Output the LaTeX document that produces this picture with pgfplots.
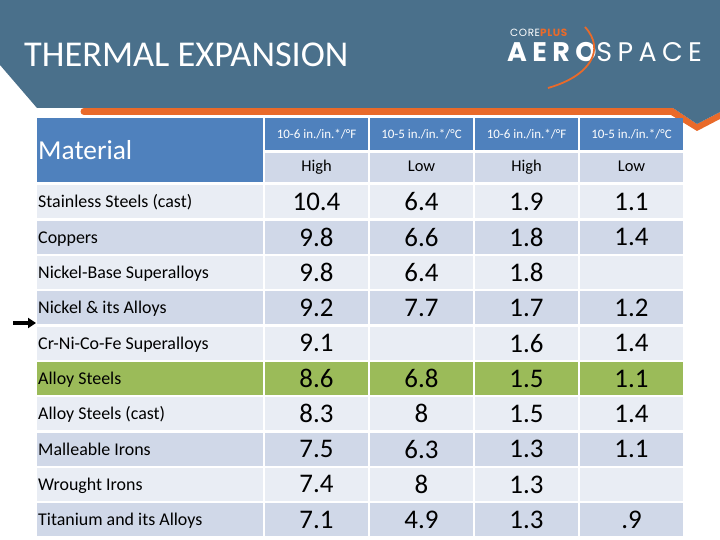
\documentclass[border=0pt]{standalone}
\usepackage{fontspec}
\setmainfont{Carlito}
\newfontfamily\logofont{Poppins}
\usepackage{pgfplots}
\pgfplotsset{compat=1.18}
\usepackage{pgfplotstable}
\usetikzlibrary{arrows.meta}
\definecolor{banner}{HTML}{4A708B}
\definecolor{orng}{HTML}{E96A2A}
\definecolor{hdr}{HTML}{4F81BD}
\definecolor{rowlight}{HTML}{E9EDF4}
\definecolor{rowdark}{HTML}{D0D8E8}
\definecolor{rowgreen}{HTML}{9BBB59}

\pgfplotstableread{
i v
0 10.4
1 9.8
2 9.8
3 9.2
4 9.1
5 8.6
6 8.3
7 7.5
8 7.4
9 7.1
}\colA
\pgfplotstableread{
i v
0 6.4
1 6.6
2 6.4
3 7.7
5 6.8
6 8
7 6.3
8 8
9 4.9
}\colB
\pgfplotstableread{
i v
0 1.9
1 1.8
2 1.8
3 1.7
4 1.6
5 1.5
6 1.5
7 1.3
8 1.3
9 1.3
}\colC
\pgfplotstableread{
i v
0 1.1
1 1.4
3 1.2
4 1.4
5 1.1
6 1.4
7 1.1
9 .9
}\colD

\newcommand\rowcells[3]{%
 \fill[#1] (axis cs:37,#2) rectangle (axis cs:263,#3);
 \fill[#1] (axis cs:265,#2) rectangle (axis cs:368,#3);
 \fill[#1] (axis cs:370,#2) rectangle (axis cs:473,#3);
 \fill[#1] (axis cs:475,#2) rectangle (axis cs:578,#3);
 \fill[#1] (axis cs:580,#2) rectangle (axis cs:683,#3);}

\begin{document}
\begin{tikzpicture}
\begin{axis}[scale only axis, width=720bp, height=540bp,
  xmin=0, xmax=720, ymin=0, ymax=540, y dir=reverse,
  hide axis, clip=false,
  numcol/.style={only marks, mark=none, nodes near coords,
    point meta=explicit symbolic,
    every node near coord/.append style={font=\fontsize{27}{30}\selectfont,
      anchor=center, text=black, inner sep=0pt}}]
% background
\fill[white] (axis cs:0,0) rectangle (axis cs:720,540);
% orange band
\fill[orng] (axis cs:84,108) -- (axis cs:673,108) -- (axis cs:697,124) -- (axis cs:720,112)
  -- (axis cs:720,119) -- (axis cs:697,131) -- (axis cs:671,115) -- (axis cs:84,115)
  arc[start angle=270, end angle=90, radius=3.5bp] -- cycle;
% banner
\fill[banner] (axis cs:0,0) -- (axis cs:720,0) -- (axis cs:720,112) -- (axis cs:697,124)
  -- (axis cs:673,108) -- (axis cs:37,108) -- (axis cs:0,65) -- cycle;
% title
\node[anchor=base west, text=white, font=\fontsize{36.5}{42}\selectfont, inner sep=0pt]
  at (axis cs:24,67) {THERMAL EXPANSION};
% logo
\node[anchor=base west, inner sep=0pt, font=\logofont\fontsize{10.5}{12}\selectfont]
  at (axis cs:510,37) {\addfontfeature{LetterSpace=6}\textcolor{white}{CORE}\textcolor{orng}{\bfseries PLUS}};
\node[anchor=base west, inner sep=0pt, text=white, font=\logofont\fontsize{27}{30}\selectfont]
  at (axis cs:507,62) {\addfontfeature{LetterSpace=20}{\bfseries AERO}SPACE};
\draw[orng, line width=1.8bp] (axis cs:585,27) .. controls (axis cs:606,50) and (axis cs:590,76) .. (axis cs:548,88);
% table header
\fill[hdr] (axis cs:37,118) rectangle (axis cs:263,182);
\fill[hdr] (axis cs:265,118) rectangle (axis cs:368,150);
\fill[hdr] (axis cs:370,118) rectangle (axis cs:473,150);
\fill[hdr] (axis cs:475,118) rectangle (axis cs:578,150);
\fill[hdr] (axis cs:580,118) rectangle (axis cs:683,150);
\fill[rowdark] (axis cs:265,153) rectangle (axis cs:368,182);
\fill[rowdark] (axis cs:370,153) rectangle (axis cs:473,182);
\fill[rowdark] (axis cs:475,153) rectangle (axis cs:578,182);
\fill[rowdark] (axis cs:580,153) rectangle (axis cs:683,182);
% rows
\pgfplotsinvokeforeach{0,2,4,6,8}{\rowcells{rowlight}{{185.5+35.3*#1}}{{218.5+35.3*#1}}}
\pgfplotsinvokeforeach{1,3,7,9}{\rowcells{rowdark}{{185.5+35.3*#1}}{{218.5+35.3*#1}}}
\rowcells{rowgreen}{{185.5+35.3*5}}{{218.5+35.3*5}}
% header texts
\node[anchor=base west, text=white, font=\fontsize{27.5}{32}\selectfont, inner sep=0pt] at (axis cs:38,160) {Material};
\begin{scope}[every node/.style={anchor=base, text=white, font=\fontsize{13}{15}\selectfont, inner sep=0pt}]
\node at (axis cs:316.5,139) {10-6 in./in.*/°F};
\node at (axis cs:421.5,139) {10-5 in./in.*/°C};
\node at (axis cs:526.5,139) {10-6 in./in.*/°F};
\node at (axis cs:631.5,139) {10-5 in./in.*/°C};
\end{scope}
\begin{scope}[every node/.style={anchor=base, text=black, font=\fontsize{16.5}{19}\selectfont, inner sep=0pt}]
\node at (axis cs:316.5,172) {High};
\node at (axis cs:421.5,172) {Low};
\node at (axis cs:526.5,172) {High};
\node at (axis cs:631.5,172) {Low};
\end{scope}
% material names
\begin{scope}[every node/.style={anchor=base west, text=black, font=\fontsize{18}{20}\selectfont, inner sep=0pt}]
\node at (axis cs:38,208.0) {Stainless Steels (cast)};
\node at (axis cs:38,243.3) {Coppers};
\node at (axis cs:38,278.6) {Nickel-Base Superalloys};
\node at (axis cs:38,313.9) {Nickel \& its Alloys};
\node at (axis cs:38,349.2) {Cr-Ni-Co-Fe Superalloys};
\node at (axis cs:38,384.5) {Alloy Steels};
\node at (axis cs:38,419.8) {Alloy Steels (cast)};
\node at (axis cs:38,455.1) {Malleable Irons};
\node at (axis cs:38,490.4) {Wrought Irons};
\node at (axis cs:38,525.7) {Titanium and its Alloys};
\end{scope}
% arrow
\draw[black, line width=3.5bp, -{Triangle[length=8bp, width=10bp]}] (axis cs:13,323) -- (axis cs:36,323);
% values
\addplot[numcol] table[x expr=316.5, y expr={202+35.3*\thisrow{i}}, meta=v] {\colA};
\addplot[numcol] table[x expr=421.5, y expr={202+35.3*\thisrow{i}}, meta=v] {\colB};
\addplot[numcol] table[x expr=526.5, y expr={202+35.3*\thisrow{i}}, meta=v] {\colC};
\addplot[numcol] table[x expr=631.5, y expr={202+35.3*\thisrow{i}}, meta=v] {\colD};
\end{axis}
\end{tikzpicture}
\end{document}
